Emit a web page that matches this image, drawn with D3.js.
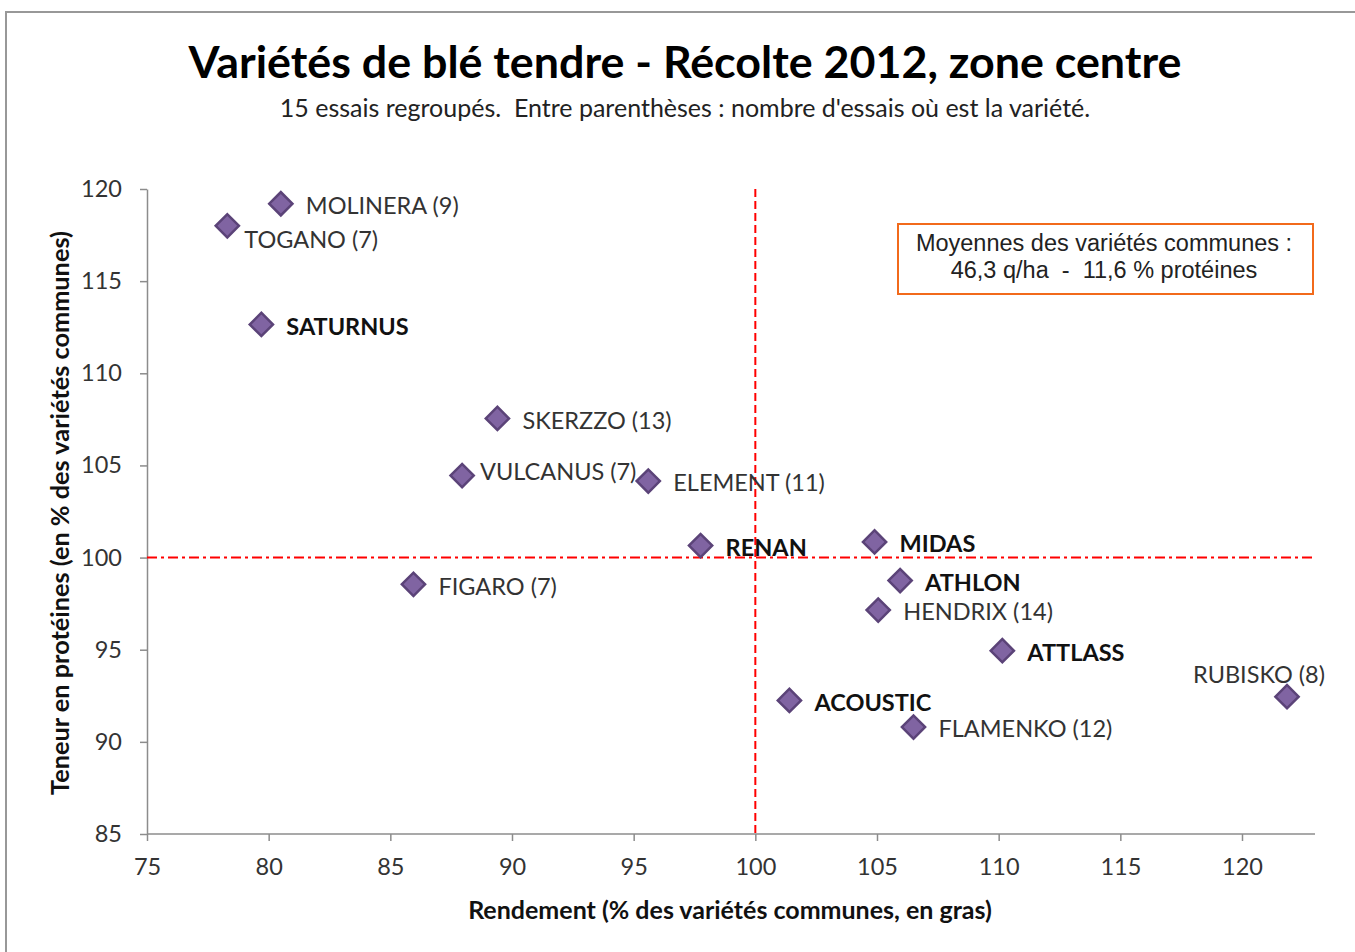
<!DOCTYPE html>
<html>
<head>
<meta charset="utf-8">
<script src="https://cdn.jsdelivr.net/npm/d3@7"></script>
<style>
  body { margin: 0; background: #fff; }
  svg { display: block; }
</style>
</head>
<body>
<div id="chart"></div>
<script>
// data
let varieties = ["MOLINERA (9)", "TOGANO (7)", "SATURNUS", "SKERZZO (13)", "VULCANUS (7)", "ELEMENT (11)",
    "RENAN", "MIDAS", "ATHLON", "HENDRIX (14)", "ATTLASS", "ACOUSTIC", "FLAMENKO (12)", "FIGARO (7)", "RUBISKO (8)"];
let rendement = [80.5, 78.3, 79.7, 89.4, 87.95, 95.6, 97.75, 104.9, 105.95, 105.05, 110.15, 101.4, 106.5, 85.95, 121.85];
let proteines = [119.2, 118.0, 112.65, 107.55, 104.45, 104.15, 100.65, 100.85, 98.75, 97.15, 94.95, 92.25, 90.8, 98.55, 92.45];
let enGras = ["SATURNUS", "RENAN", "MIDAS", "ATHLON", "ATTLASS", "ACOUSTIC"];
let xTicks = [75, 80, 85, 90, 95, 100, 105, 110, 115, 120];
let yTicks = [85, 90, 95, 100, 105, 110, 115, 120];
let reference = 100;

// label nudges (dx, dy from the marker), default is right of the marker
let labelNudge = {
    "TOGANO (7)": [17, 14],
    "VULCANUS (7)": [18, -4],
    "RUBISKO (8)": [38, -22, "end"]
};

let width = 1355, height = 952;
let margin = { top: 189, right: 40, bottom: 117, left: 147 };

let svg = d3.select("#chart").append("svg")
    .attr("width", width)
    .attr("height", height);

// outer frame
svg.append("rect")
    .attr("x", 6).attr("y", 12)
    .attr("width", width + 20).attr("height", height + 20)
    .attr("fill", "#fff")
    .attr("stroke", "#989898")
    .attr("stroke-width", 2);

let x = d3.scaleLinear().domain([75, 123]).range([margin.left, width - margin.right]);
let y = d3.scaleLinear().domain([85, 120]).range([height - margin.bottom - 1, margin.top]);

let font = "Lato, 'Open Sans', sans-serif";

// titles
svg.append("text")
    .attr("x", 685).attr("y", 78)
    .attr("text-anchor", "middle")
    .style("font-family", font).style("font-weight", "bold").style("font-size", "44.8px")
    .attr("fill", "#000")
    .text("Variétés de blé tendre - Récolte 2012, zone centre");

svg.append("text")
    .attr("x", 685).attr("y", 117)
    .attr("text-anchor", "middle")
    .attr("xml:space", "preserve")
    .style("white-space", "pre")
    .style("font-family", font).style("font-size", "25px")
    .attr("fill", "#222")
    .text("15 essais regroupés.  Entre parenthèses : nombre d'essais où est la variété.");

// axes
let xAxis = svg.append("g")
    .attr("transform", "translate(0," + y(85) + ")")
    .call(d3.axisBottom(x).tickValues(xTicks).tickSize(7).tickPadding(17).tickSizeOuter(0));
let yAxis = svg.append("g")
    .attr("transform", "translate(" + x(75) + ",0)")
    .call(d3.axisLeft(y).tickValues(yTicks).tickSize(7).tickPadding(18).tickSizeOuter(0));

[xAxis, yAxis].forEach(a => {
    a.select(".domain").attr("stroke", "#8c8c8c").attr("stroke-width", 1.5);
    a.selectAll(".tick line").attr("stroke", "#8c8c8c").attr("stroke-width", 1.5);
    a.selectAll(".tick text")
        .style("font-family", font).style("font-size", "23.5px")
        .attr("fill", "#333");
});
// x axis domain line runs past the last tick
xAxis.select(".domain").attr("d", "M" + x(75) + ",0H" + x(123));

svg.append("text")
    .attr("x", 730).attr("y", 919)
    .attr("text-anchor", "middle")
    .style("font-family", font).style("font-weight", "bold").style("font-size", "25px")
    .attr("fill", "#111")
    .text("Rendement (% des variétés communes, en gras)");

svg.append("text")
    .attr("transform", "translate(69," + 513 + ") rotate(-90)")
    .attr("text-anchor", "middle")
    .style("font-family", font).style("font-weight", "bold").style("font-size", "25.3px")
    .attr("fill", "#111")
    .text("Teneur en protéines (en % des variétés communes)");

// reference lines at 100
svg.append("line")
    .attr("x1", x(reference)).attr("x2", x(reference))
    .attr("y1", y(120)).attr("y2", y(85))
    .attr("stroke", "#ff0000").attr("stroke-width", 2)
    .attr("stroke-dasharray", "8,4");
svg.append("line")
    .attr("x1", x(75)).attr("x2", x(123))
    .attr("y1", y(reference)).attr("y2", y(reference))
    .attr("stroke", "#ff0000").attr("stroke-width", 2)
    .attr("stroke-dasharray", "10,4,3,4");

// legend box
svg.append("rect")
    .attr("x", 898).attr("y", 224)
    .attr("width", 415).attr("height", 70)
    .attr("fill", "#fff")
    .attr("stroke", "#f26a1b").attr("stroke-width", 2);
svg.append("text")
    .attr("x", 1104).attr("y", 251)
    .attr("text-anchor", "middle")
    .style("font-family", "'Liberation Sans', Arial, sans-serif").style("font-size", "23.5px")
    .attr("fill", "#222")
    .text("Moyennes des variétés communes :");
svg.append("text")
    .attr("x", 1104).attr("y", 278)
    .attr("text-anchor", "middle")
    .style("font-family", "'Liberation Sans', Arial, sans-serif").style("font-size", "23.5px")
    .style("white-space", "pre")
    .attr("fill", "#222")
    .attr("xml:space", "preserve")
    .text("46,3 q/ha  -  11,6 % protéines");

// points
let points = varieties.map((v, i) => ({ name: v, rdt: rendement[i], prot: proteines[i] }));
let diamond = d3.symbol().type(d3.symbolSquare).size(270);

let g = svg.append("g");
g.selectAll("path.pt")
    .data(points)
    .join("path")
    .attr("class", "pt")
    .attr("d", diamond)
    .attr("transform", d => "translate(" + x(d.rdt) + "," + y(d.prot) + ") rotate(45)")
    .attr("fill", "#8064a2")
    .attr("stroke", "#5b4378")
    .attr("stroke-width", 2.5);

g.selectAll("text.lbl")
    .data(points)
    .join("text")
    .attr("class", "lbl")
    .attr("x", d => x(d.rdt) + (labelNudge[d.name] ? labelNudge[d.name][0] : 25))
    .attr("y", d => y(d.prot) + (labelNudge[d.name] ? labelNudge[d.name][1] : 2))
    .attr("dy", "0.35em")
    .attr("text-anchor", d => (labelNudge[d.name] && labelNudge[d.name][2]) || "start")
    .style("font-family", font)
    .style("font-size", "23.5px")
    .style("font-weight", d => enGras.includes(d.name) ? "bold" : "normal")
    .attr("fill", d => enGras.includes(d.name) ? "#111" : "#333")
    .text(d => d.name);
</script>
</body>
</html>
